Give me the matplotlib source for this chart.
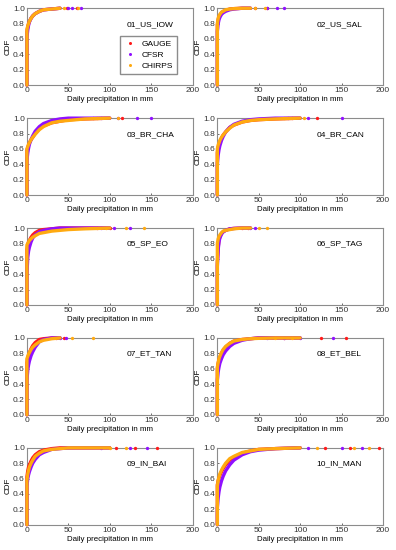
import matplotlib
matplotlib.use("Agg")
import matplotlib.pyplot as plt
from matplotlib.lines import Line2D

plt.rcParams['font.family'] = ['Liberation Sans', 'DejaVu Sans']

# Station names, one per panel (left-right, top-bottom)
stations = ["01_US_IOW", "02_US_SAL", "03_BR_CHA", "04_BR_CAN", "05_SP_EO",
            "06_SP_TAG", "07_ET_TAN", "08_ET_BEL", "09_IN_BAI", "10_IN_MAN"]
products = ["GAUGE", "CFSR", "CHIRPS"]
colors = {"GAUGE": "#ff1a1a", "CFSR": "#9010ff", "CHIRPS": "#ffaa10"}

# Daily precipitation (mm) at which the CDF was read, per station
x_short = [0, 0, 1, 2, 3, 5, 7, 10, 15, 20, 30, 40]
x_long = [0, 0, 1, 2, 3, 5, 7, 10, 15, 20, 30, 40, 50, 70, 100]

x_mm = {
    "01_US_IOW": x_short, "02_US_SAL": x_short, "03_BR_CHA": x_long,
    "04_BR_CAN": x_long, "05_SP_EO": x_long, "06_SP_TAG": x_short,
    "07_ET_TAN": x_short, "08_ET_BEL": x_long, "09_IN_BAI": x_long,
    "10_IN_MAN": x_long,
}

# CDF values
cdf_gauge = {
    "01_US_IOW": [0, 0.70, 0.76, 0.80, 0.83, 0.87, 0.90, 0.93, 0.96, 0.98, 0.99, 1.0],
    "02_US_SAL": [0, 0.78, 0.85, 0.89, 0.91, 0.94, 0.96, 0.97, 0.99, 0.995, 1.0, 1.0],
    "03_BR_CHA": [0, 0.58, 0.62, 0.65, 0.68, 0.72, 0.75, 0.80, 0.86, 0.90, 0.94, 0.96, 0.98, 0.99, 1.0],
    "04_BR_CAN": [0, 0.55, 0.62, 0.66, 0.69, 0.74, 0.78, 0.82, 0.88, 0.91, 0.95, 0.97, 0.98, 0.99, 1.0],
    "05_SP_EO": [0, 0.72, 0.78, 0.82, 0.84, 0.88, 0.91, 0.94, 0.97, 0.98, 0.99, 1.0, 1.0, 1.0, 1.0],
    "06_SP_TAG": [0, 0.55, 0.75, 0.84, 0.88, 0.93, 0.95, 0.97, 0.99, 0.995, 1.0, 1.0],
    "07_ET_TAN": [0, 0.68, 0.74, 0.78, 0.81, 0.86, 0.90, 0.94, 0.98, 0.99, 1.0, 1.0],
    "08_ET_BEL": [0, 0.60, 0.67, 0.72, 0.75, 0.80, 0.84, 0.88, 0.93, 0.96, 0.98, 0.99, 1.0, 1.0, 1.0],
    "09_IN_BAI": [0, 0.62, 0.70, 0.75, 0.78, 0.83, 0.87, 0.91, 0.95, 0.97, 0.99, 1.0, 1.0, 1.0, 1.0],
    "10_IN_MAN": [0, 0.52, 0.57, 0.61, 0.64, 0.69, 0.73, 0.78, 0.84, 0.88, 0.93, 0.96, 0.98, 0.99, 1.0],
}
cdf_cfsr = {
    "01_US_IOW": [0, 0.62, 0.72, 0.78, 0.82, 0.87, 0.90, 0.93, 0.96, 0.98, 0.99, 1.0],
    "02_US_SAL": [0, 0.70, 0.80, 0.85, 0.88, 0.92, 0.94, 0.96, 0.98, 0.99, 1.0, 1.0],
    "03_BR_CHA": [0, 0.45, 0.55, 0.61, 0.66, 0.72, 0.77, 0.83, 0.89, 0.93, 0.97, 0.99, 1.0, 1.0, 1.0],
    "04_BR_CAN": [0, 0.40, 0.52, 0.59, 0.64, 0.71, 0.76, 0.82, 0.88, 0.92, 0.96, 0.98, 0.99, 1.0, 1.0],
    "05_SP_EO": [0, 0.40, 0.62, 0.70, 0.75, 0.82, 0.87, 0.91, 0.95, 0.97, 0.99, 1.0, 1.0, 1.0, 1.0],
    "06_SP_TAG": [0, 0.50, 0.72, 0.82, 0.87, 0.92, 0.95, 0.97, 0.99, 0.995, 1.0, 1.0],
    "07_ET_TAN": [0, 0.45, 0.58, 0.65, 0.70, 0.77, 0.82, 0.88, 0.95, 0.98, 1.0, 1.0],
    "08_ET_BEL": [0, 0.45, 0.56, 0.62, 0.67, 0.73, 0.78, 0.83, 0.89, 0.93, 0.97, 0.99, 1.0, 1.0, 1.0],
    "09_IN_BAI": [0, 0.50, 0.60, 0.65, 0.69, 0.75, 0.80, 0.85, 0.91, 0.94, 0.98, 0.99, 1.0, 1.0, 1.0],
    "10_IN_MAN": [0, 0.22, 0.35, 0.43, 0.49, 0.57, 0.63, 0.70, 0.78, 0.84, 0.91, 0.95, 0.97, 0.99, 1.0],
}
cdf_chirps = {
    "01_US_IOW": [0, 0.72, 0.77, 0.80, 0.83, 0.87, 0.90, 0.93, 0.96, 0.98, 0.99, 1.0],
    "02_US_SAL": [0, 0.80, 0.87, 0.90, 0.92, 0.95, 0.96, 0.98, 0.99, 0.995, 1.0, 1.0],
    "03_BR_CHA": [0, 0.60, 0.63, 0.66, 0.68, 0.72, 0.75, 0.79, 0.85, 0.89, 0.94, 0.96, 0.97, 0.99, 1.0],
    "04_BR_CAN": [0, 0.60, 0.65, 0.68, 0.71, 0.75, 0.78, 0.82, 0.87, 0.91, 0.95, 0.97, 0.98, 0.99, 1.0],
    "05_SP_EO": [0, 0.78, 0.80, 0.82, 0.84, 0.86, 0.88, 0.90, 0.93, 0.94, 0.96, 0.97, 0.98, 0.99, 1.0],
    "06_SP_TAG": [0, 0.80, 0.86, 0.89, 0.91, 0.94, 0.96, 0.97, 0.98, 0.99, 1.0, 1.0],
    "07_ET_TAN": [0, 0.73, 0.76, 0.79, 0.81, 0.85, 0.88, 0.91, 0.95, 0.97, 0.99, 1.0],
    "08_ET_BEL": [0, 0.62, 0.68, 0.73, 0.76, 0.81, 0.85, 0.89, 0.93, 0.96, 0.98, 0.99, 0.995, 1.0, 1.0],
    "09_IN_BAI": [0, 0.58, 0.66, 0.71, 0.75, 0.80, 0.84, 0.89, 0.93, 0.96, 0.98, 0.99, 1.0, 1.0, 1.0],
    "10_IN_MAN": [0, 0.50, 0.58, 0.62, 0.66, 0.71, 0.75, 0.80, 0.86, 0.89, 0.94, 0.96, 0.98, 0.99, 1.0],
}
cdf = {"GAUGE": cdf_gauge, "CFSR": cdf_cfsr, "CHIRPS": cdf_chirps}

# Isolated extreme values (mm) seen as dots along CDF = 1
tail_gauge = {
    "01_US_IOW": [48, 60], "02_US_SAL": [45, 60], "03_BR_CHA": [80, 115],
    "04_BR_CAN": [90, 120], "05_SP_EO": [85, 100], "06_SP_TAG": [30, 37],
    "07_ET_TAN": [35, 45], "08_ET_BEL": [80, 125, 155], "09_IN_BAI": [108, 130, 157],
    "10_IN_MAN": [130, 160, 195],
}
tail_cfsr = {
    "01_US_IOW": [50, 55, 65], "02_US_SAL": [60, 72, 80], "03_BR_CHA": [90, 110, 133, 150],
    "04_BR_CAN": [85, 110, 150], "05_SP_EO": [90, 105, 125], "06_SP_TAG": [40, 45],
    "07_ET_TAN": [40, 47], "08_ET_BEL": [60, 80, 100, 140], "09_IN_BAI": [90, 125, 145],
    "10_IN_MAN": [110, 150, 175],
}
tail_chirps = {
    "01_US_IOW": [45, 62], "02_US_SAL": [45, 58], "03_BR_CHA": [85, 110],
    "04_BR_CAN": [80, 105], "05_SP_EO": [95, 120, 142], "06_SP_TAG": [50, 60],
    "07_ET_TAN": [55, 80], "08_ET_BEL": [70, 90], "09_IN_BAI": [100, 120],
    "10_IN_MAN": [120, 165, 183],
}
tails = {"GAUGE": tail_gauge, "CFSR": tail_cfsr, "CHIRPS": tail_chirps}

x_ticks = [0, 50, 100, 150, 200]
y_ticks = [0.0, 0.2, 0.4, 0.6, 0.8, 1.0]

fig, axes = plt.subplots(5, 2, figsize=(3.96, 5.5), dpi=100)
fig.subplots_adjust(left=0.068, right=0.967, top=0.985, bottom=0.046,
                    wspace=0.15, hspace=0.43)

for ax, st in zip(axes.flat, stations):
    for p in products:
        ax.plot(x_mm[st], cdf[p][st], color=colors[p], lw=2.4, clip_on=False,
                solid_capstyle='round', solid_joinstyle='round', zorder=3)
        ax.plot(tails[p][st], [1.0] * len(tails[p][st]), 'o', color=colors[p],
                ms=2.4, mew=0, zorder=3, clip_on=False)
    ax.set_xlim(0, 200)
    ax.set_ylim(0, 1.0)
    ax.set_xticks(x_ticks)
    ax.set_yticks(y_ticks)
    ax.set_yticklabels([f"{v:.1f}" for v in y_ticks])
    ax.tick_params(labelsize=6, length=1.5, width=0.5, direction='in',
                   colors='#333333', pad=1.5)
    for s in ax.spines.values():
        s.set_color('#8c8c8c')
        s.set_linewidth(0.8)
    ax.set_xlabel("Daily precipitation in mm", fontsize=5.7, labelpad=1.5)
    ax.set_ylabel("CDF", fontsize=5.8, labelpad=1)
    ax.text(0.6, 0.79, st, transform=ax.transAxes, fontsize=6, va='center')

handles = [Line2D([], [], marker='o', ls='none', color=colors[p], ms=2.2, mew=0)
           for p in products]
leg = axes[0, 0].legend(handles, products, loc='upper left', bbox_to_anchor=(0.56, 0.64),
                        fontsize=6, frameon=True, fancybox=False, edgecolor='#8c8c8c',
                        framealpha=1, handletextpad=0.6, handlelength=1.6,
                        labelspacing=0.4, borderpad=0.45, borderaxespad=0)
leg.set_zorder(5)

fig.savefig("out.png", dpi=100)
